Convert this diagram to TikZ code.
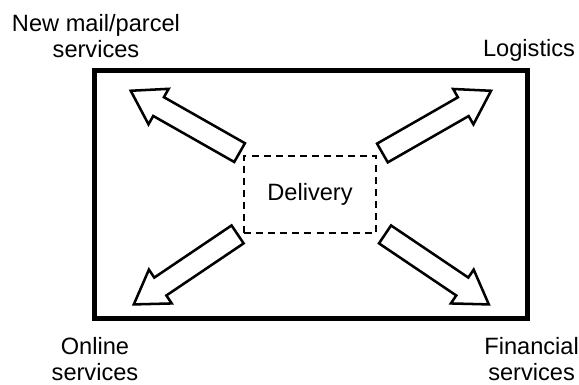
\documentclass[tikz,border=0pt]{standalone}
\usepackage{fontspec}
\setmainfont{Liberation Sans}
\usetikzlibrary{positioning, calc}
\tikzset{
    framebox/.style={rectangle, draw, line width=3.5pt, minimum width=10.825cm,
                     minimum height=6.2cm, inner sep=0pt},
    dlvbox/.style={rectangle, draw, dashed, line width=2pt,
                   dash pattern=on 5pt off 3.6pt, minimum width=3.3cm,
                   minimum height=1.925cm, inner sep=0pt},
    lbl/.style={align=center, inner sep=0pt},
    fatline/.style={draw, fill=white, line width=1.8pt},
    pics/fatarrow/.style={code={
        \draw[fatline] (0,-0.27) -- (2.33,-0.27) -- (2.33,-0.51) -- (3.13,0)
            -- (2.33,0.51) -- (2.33,0.27) -- (0,0.27) -- cycle;
    }},
}
\begin{document}
\begin{tikzpicture}[font=\fontsize{16.8}{18.5}\selectfont]
    \useasboundingbox (0,0) rectangle (14.475,9.6);
    \node[framebox] (frame) at (7.775,4.7375) {};
    \node[dlvbox] (dlv) at (7.75,4.7375) {Delivery};
    % block arrows out of the corners
    \pic[rotate=150.4] at ([shift={(-0.075,0.05)}]dlv.north west) {fatarrow};
    \pic[rotate=29.8]  at ([shift={(0.125,0.04)}]dlv.north east) {fatarrow};
    \pic[rotate=214]   at ([shift={(-0.125,0)}]dlv.south west) {fatarrow};
    \pic[rotate=-34]   at ([shift={(0.19,0)}]dlv.south east) {fatarrow};
    % labels
    \node[lbl] (newmail) at (2.4,8.69) {New mail/parcel\\services};
    \node[lbl] (logist) at (13.225,8.35) {Logistics};
    \node[lbl] (online) at (2.375,0.63) {Online\\services};
    \node[lbl] (financ) at (13.29,0.63) {Financial\\services};
\end{tikzpicture}
\end{document}
